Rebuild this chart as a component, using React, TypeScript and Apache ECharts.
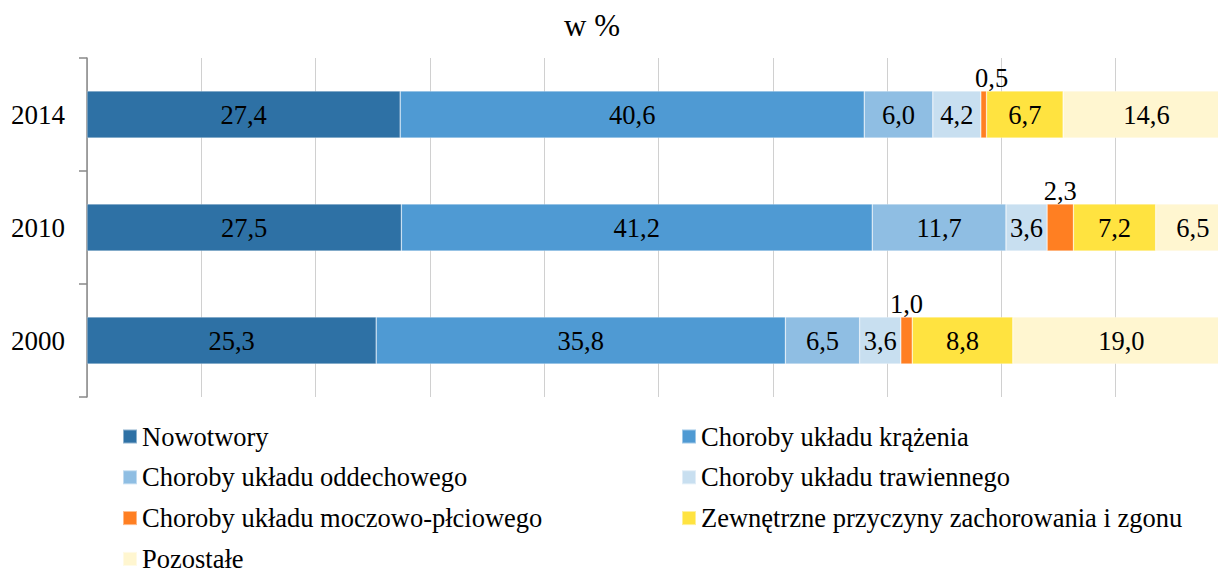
import React, { useEffect, useRef } from "react";
import * as echarts from "echarts";

const years = ["2000", "2010", "2014"];
const seriesNames = [
  "Nowotwory",
  "Choroby układu krążenia",
  "Choroby układu oddechowego",
  "Choroby układu trawiennego",
  "Choroby układu moczowo-płciowego",
  "Zewnętrzne przyczyny zachorowania i zgonu",
  "Pozostałe",
];
const nowotwory = [25.3, 27.5, 27.4];
const krazenia = [35.8, 41.2, 40.6];
const oddechowego = [6.5, 11.7, 6.0];
const trawiennego = [3.6, 3.6, 4.2];
const moczowo = [1.0, 2.3, 0.5];
const zewnetrzne = [8.8, 7.2, 6.7];
const pozostale = [19.0, 6.5, 14.6];
const allValues = [nowotwory, krazenia, oddechowego, trawiennego, moczowo, zewnetrzne, pozostale];
const colors = ["#2E71A5", "#4F9AD3", "#8FBEE3", "#C8DFF0", "#FF7F22", "#FFE340", "#FFF6D0"];

const FONT = "'Liberation Serif', 'Times New Roman', serif";

export default function App() {
  const ref = useRef<HTMLDivElement>(null);
  useEffect(() => {
    if (!ref.current) return;
    const chart = echarts.init(ref.current, null, { renderer: "svg" });
    const fmt = (p: any) => Number(p.value).toFixed(1).replace(".", ",");
    const series = seriesNames.map((name, i) => {
      const small = i === 4;
      return {
        name,
        type: "bar",
        stack: "total",
        barWidth: 47,
        itemStyle: { color: colors[i], borderColor: "rgba(255,255,255,0.45)", borderWidth: 0.6 },
        label: {
          show: true,
          position: small ? "top" : "inside",
          distance: 0,
          formatter: fmt,
          color: "#000",
          fontFamily: FONT,
          fontSize: 26.5,
        },
        data: allValues[i].map((v, j) =>
          small && j === 2 ? { value: v, label: { offset: [8, 0] } } : v
        ),
      };
    });
    const legendText = { fontFamily: FONT, fontSize: 26.5, color: "#000" };
    chart.setOption({
      animation: false,
      title: {
        text: "w %",
        left: 587,
        top: 5,
        textAlign: "center",
        textStyle: { fontFamily: FONT, fontSize: 31, fontWeight: "normal", color: "#000" },
      },
      grid: { left: 87, top: 58, width: 1143, height: 339 },
      legend: [
        {
          orient: "vertical",
          left: 122,
          top: 423,
          itemWidth: 14,
          itemHeight: 14,
          itemGap: 13.8,
          padding: 0,
          icon: "rect",
          data: [seriesNames[0], seriesNames[2], seriesNames[4], seriesNames[6]],
          textStyle: legendText,
        },
        {
          orient: "vertical",
          left: 681,
          top: 423,
          itemWidth: 14,
          itemHeight: 14,
          itemGap: 13.8,
          padding: 0,
          icon: "rect",
          data: [seriesNames[1], seriesNames[3], seriesNames[5]],
          textStyle: legendText,
        },
      ],
      xAxis: {
        type: "value",
        min: 0,
        max: 100,
        interval: 10,
        axisLabel: { show: false },
        axisLine: { show: false },
        axisTick: { show: false },
        splitLine: { show: true, lineStyle: { color: "#D0D0D0", width: 1 } },
      },
      yAxis: {
        type: "category",
        data: years,
        axisLine: { show: true, lineStyle: { color: "#888888", width: 1.5 } },
        axisTick: { show: true, length: 8, lineStyle: { color: "#888888", width: 1.5 } },
        axisLabel: { fontFamily: FONT, fontSize: 27, color: "#000", margin: 22 },
      },
      series,
    });
    return () => chart.dispose();
  }, []);
  return (
    <div
      style={{
        position: "absolute",
        left: 0,
        top: 0,
        width: 1218,
        height: 574,
        overflow: "hidden",
        background: "#fff",
      }}
    >
      <div ref={ref} style={{ width: 1250, height: 620 }} />
    </div>
  );
}
